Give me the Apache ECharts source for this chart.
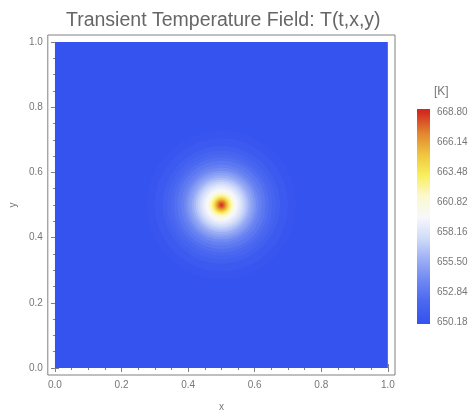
<!DOCTYPE html>
<html>
<head>
<meta charset="utf-8">
<script src="https://cdn.jsdelivr.net/npm/echarts@6/dist/echarts.min.js"></script>
<style>html,body{margin:0;padding:0;background:#fff}#c{width:473px;height:417px}</style>
</head>
<body>
<div id="c"></div>
<script>
// ---- data ----
const titleText = 'Transient Temperature Field: T(t,x,y)';
const unitLabel = '[K]';
const tMin = 650.18;
const tMax = 668.80;
// hot spot centre (x, y)
const spotX = 0.5;
const spotY = 0.5;
// radial profile: radius (data units) and temperature (K), outermost first
const ringRadius = [0.226, 0.202, 0.178, 0.165, 0.154, 0.144, 0.134, 0.123, 0.113, 0.105, 0.098, 0.09, 0.083, 0.077, 0.071, 0.065, 0.059, 0.053, 0.047, 0.043, 0.039, 0.034, 0.030, 0.027, 0.024, 0.021, 0.018, 0.015, 0.012, 0.009, 0.006, 0.003];
const ringTemp   = [650.45, 650.8, 651.3, 651.65, 652.0, 652.45, 652.9, 653.45, 654.0, 654.55, 655.1, 655.7, 656.3, 656.85, 657.4, 657.95, 658.5, 659.05, 659.6, 660.2, 660.8, 661.55, 662.3, 663.05, 663.8, 664.65, 665.5, 666.25, 667.0, 667.6, 668.2, 668.6];
// domain
const domainMin = 0;
const domainSize = 1;
// tick labels
const xMajor = [0, 0.2, 0.4, 0.6, 0.8, 1.0];
const xMinor = [0.05, 0.1, 0.15, 0.25, 0.3, 0.35, 0.45, 0.5, 0.55, 0.65, 0.7, 0.75, 0.85, 0.9, 0.95];
const yMajor = [0, 0.2, 0.4, 0.6, 0.8, 1.0];
const yMinor = [0.05, 0.1, 0.15, 0.25, 0.3, 0.35, 0.45, 0.5, 0.55, 0.65, 0.7, 0.75, 0.85, 0.9, 0.95];
const cbTicks = [650.18, 652.84, 655.50, 658.16, 660.82, 663.48, 666.14, 668.80];
// colour scheme (evenly spaced from tMin to tMax)
const palette = ['#3553ef', '#4a68f0', '#6f88f2', '#9caff5', '#d0dbf9', '#f7f8fb', '#fcf8cf', '#f8ef5c', '#efc43e', '#e2852f', '#d32a20'];

// ---- chart ----
const chart = echarts.init(document.getElementById('c'), null, {renderer: 'canvas'});
const font = 'Liberation Sans, Arial, sans-serif';
const grey = '#808080';
const labelGrey = '#777';
const pad = 0.0215;
const cbAxisMin = 650.05, cbAxisMax = 669.07;

const ringData = ringRadius.map((r, i) => [spotX, spotY, r, ringTemp[i]]);
const bgData = [[domainMin, domainMin, domainSize, tMin]];

function mkX(pos, vals, len, labels, name) {
  return {
    type: 'value', gridIndex: 0, position: pos, min: -pad, max: 1 + pad,
    axisLine: {show: false}, splitLine: {show: false},
    axisTick: {show: true, inside: true, length: len, customValues: vals, lineStyle: {color: grey}},
    axisLabel: {show: labels, customValues: vals, margin: 5, color: labelGrey, fontFamily: font, fontSize: 10,
      formatter: v => v.toFixed(1)},
    name: name || '', nameLocation: 'middle', nameGap: 27,
    nameTextStyle: {color: labelGrey, fontFamily: font, fontSize: 10}
  };
}
function mkY(pos, vals, len, labels, name) {
  return {
    type: 'value', gridIndex: 0, position: pos, min: -pad, max: 1 + pad,
    axisLine: {show: false}, splitLine: {show: false},
    axisTick: {show: true, inside: true, length: len, customValues: vals, lineStyle: {color: grey}},
    axisLabel: {show: labels, customValues: vals, margin: 5, color: labelGrey, fontFamily: font, fontSize: 10,
      formatter: v => v.toFixed(1)},
    name: name || '', nameLocation: 'middle', nameGap: 27, nameRotate: 90,
    nameTextStyle: {color: labelGrey, fontFamily: font, fontSize: 10}
  };
}

const gradStops = palette.map((c, i) => {
  const v = tMin + (tMax - tMin) * i / (palette.length - 1);
  return {offset: (v - cbAxisMin) / (cbAxisMax - cbAxisMin), color: c};
});
gradStops.unshift({offset: 0, color: palette[0]});
gradStops.push({offset: 1, color: palette[palette.length - 1]});

const option = {
  backgroundColor: '#fff',
  animation: false,
  title: {
    text: titleText, left: 61, top: 6,
    textStyle: {color: '#666', fontFamily: font, fontSize: 19.5, fontWeight: 'normal'}
  },
  graphic: [{
    type: 'text', left: 434, top: 86,
    style: {text: unitLabel, fill: '#777', font: '12px ' + font}
  }],
  grid: [
    {left: 43, top: 35, width: 352, height: 348, show: true, borderColor: grey, borderWidth: 1, backgroundColor: 'transparent'},
    {left: 417, top: 109, width: 13, height: 215, show: false}
  ],
  xAxis: [
    mkX('bottom', xMajor, 4, true, 'x'),
    mkX('bottom', xMinor, 2, false),
    mkX('top', xMajor, 4, false),
    mkX('top', xMinor, 2, false),
    {type: 'value', gridIndex: 1, min: 0, max: 1, show: false}
  ],
  yAxis: [
    mkY('left', yMajor, 4, true, 'y'),
    mkY('left', yMinor, 2, false),
    mkY('right', yMajor, 4, false),
    mkY('right', yMinor, 2, false),
    {
      type: 'value', gridIndex: 1, position: 'right', min: cbAxisMin, max: cbAxisMax,
      axisLine: {show: false}, splitLine: {show: false},
      axisTick: {show: true, inside: false, length: 3, customValues: cbTicks, lineStyle: {color: grey}},
      axisLabel: {show: true, customValues: cbTicks, margin: 7, color: labelGrey, fontFamily: font, fontSize: 10,
        formatter: v => v.toFixed(2)}
    }
  ],
  visualMap: {
    type: 'continuous', show: false, min: tMin, max: tMax, dimension: 3,
    seriesIndex: [0, 1], inRange: {color: palette}
  },
  series: [
    {
      type: 'custom', xAxisIndex: 0, yAxisIndex: 0, data: bgData, z: 1,
      renderItem: (params, api) => {
        const p0 = api.coord([api.value(0), api.value(1)]);
        const p1 = api.coord([api.value(0) + api.value(2), api.value(1) + api.value(2)]);
        return {type: 'rect', shape: {x: p0[0], y: p1[1], width: p1[0] - p0[0], height: p0[1] - p1[1]},
          style: {fill: api.visual('color')}};
      }
    },
    {
      type: 'custom', xAxisIndex: 0, yAxisIndex: 0, data: ringData, z: 2,
      renderItem: (params, api) => {
        const c = api.coord([api.value(0), api.value(1)]);
        const s = api.size([api.value(2), api.value(2)]);
        return {type: 'circle', shape: {cx: c[0], cy: c[1], r: (s[0] + s[1]) / 2},
          style: {fill: api.visual('color')}};
      }
    },
    {
      type: 'custom', xAxisIndex: 4, yAxisIndex: 4, data: [[0, cbAxisMin, 1, cbAxisMax]], z: 2,
      renderItem: (params, api) => {
        const p0 = api.coord([api.value(0), api.value(1)]);
        const p1 = api.coord([api.value(2), api.value(3)]);
        return {type: 'rect', shape: {x: p0[0], y: p1[1], width: p1[0] - p0[0], height: p0[1] - p1[1]},
          style: {fill: new echarts.graphic.LinearGradient(0, 1, 0, 0, gradStops)}};
      }
    }
  ]
};
chart.setOption(option);
</script>
</body>
</html>
